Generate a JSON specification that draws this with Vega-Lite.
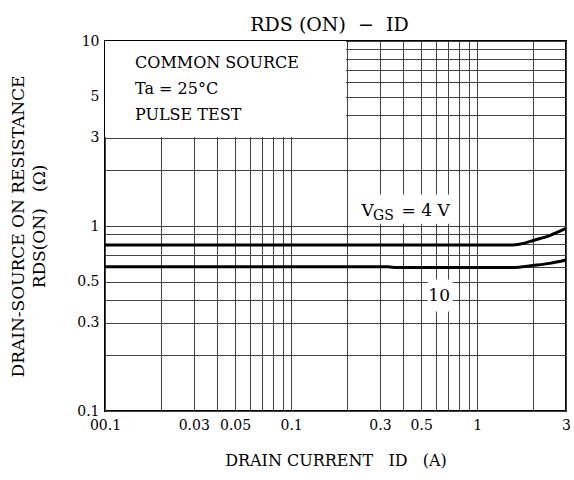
{
  "$schema": "https://vega.github.io/schema/vega-lite/v6.json",
  "width": 461,
  "height": 370,
  "autosize": {"type": "none"},
  "padding": {"left": 105, "top": 41, "right": 8, "bottom": 69},
  "background": "white",
  "config": {
    "view": {"stroke": "black", "strokeWidth": 2},
    "font": "DejaVu Serif"
  },
  "title": {
    "text": "RDS (ON)\u00a0\u00a0−\u00a0\u00a0ID",
    "font": "DejaVu Serif",
    "fontSize": 19,
    "fontWeight": "normal",
    "color": "black",
    "offset": 10,
    "dx": -6,
    "dy": 11
  },
  "datasets": {
    "curves": [
      {"vgs": "4", "id": 0.01, "r": 0.79},
      {"vgs": "4", "id": 0.1, "r": 0.79},
      {"vgs": "4", "id": 1.0, "r": 0.79},
      {"vgs": "4", "id": 1.55, "r": 0.79},
      {"vgs": "4", "id": 1.8, "r": 0.808},
      {"vgs": "4", "id": 2.0, "r": 0.835},
      {"vgs": "4", "id": 2.45, "r": 0.888},
      {"vgs": "4", "id": 3.0, "r": 0.97},
      {"vgs": "10", "id": 0.01, "r": 0.602},
      {"vgs": "10", "id": 0.1, "r": 0.602},
      {"vgs": "10", "id": 0.33, "r": 0.602},
      {"vgs": "10", "id": 0.37, "r": 0.596},
      {"vgs": "10", "id": 1.0, "r": 0.596},
      {"vgs": "10", "id": 1.55, "r": 0.596},
      {"vgs": "10", "id": 2.0, "r": 0.612},
      {"vgs": "10", "id": 2.45, "r": 0.628},
      {"vgs": "10", "id": 3.0, "r": 0.655}
    ]
  },
  "layer": [
    {
      "data": {"name": "curves"},
      "mark": {"type": "line", "color": "black", "strokeWidth": 3, "interpolate": "monotone"},
      "encoding": {
        "x": {
          "field": "id",
          "type": "quantitative",
          "scale": {"type": "log", "domain": [0.01, 3], "nice": false},
          "axis": {
            "title": "DRAIN CURRENT\u00a0\u00a0\u00a0ID\u00a0\u00a0\u00a0(A)",
            "values": [0.01, 0.02, 0.03, 0.04, 0.05, 0.06, 0.07, 0.08, 0.09, 0.1, 0.2, 0.3, 0.4, 0.5, 0.6, 0.7, 0.8, 0.9, 1, 2, 3],
            "labelExpr": "datum.value == 0.01 ? '00.1' : (indexof([0.03, 0.05, 0.1, 0.3, 0.5, 1, 3], datum.value) >= 0 ? '' + datum.value : '')",
            "grid": true,
            "gridColor": "#444444",
            "gridWidth": 1,
            "gridOpacity": 1,
            "ticks": false,
            "domain": false,
            "labelFont": "DejaVu Serif",
            "labelFontSize": 14,
            "labelColor": "black",
            "labelPadding": 7,
            "labelOverlap": false,
            "labelFlush": false,
            "labelBound": false,
            "titleFont": "DejaVu Serif",
            "titleFontSize": 16,
            "titleFontWeight": "normal",
            "titleColor": "black",
            "titlePadding": 20
          }
        },
        "y": {
          "field": "r",
          "type": "quantitative",
          "scale": {"type": "log", "domain": [0.1, 10], "nice": false},
          "axis": {
            "title": ["DRAIN-SOURCE ON RESISTANCE", "RDS(ON)\u00a0\u00a0\u00a0(Ω)"],
            "values": [0.1, 0.2, 0.3, 0.4, 0.5, 0.6, 0.7, 0.8, 0.9, 1, 2, 3, 4, 5, 6, 7, 8, 9, 10],
            "labelExpr": "indexof([0.1, 0.3, 0.5, 1, 3, 5, 10], datum.value) >= 0 ? '' + datum.value : ''",
            "grid": true,
            "gridColor": "#444444",
            "gridWidth": 1,
            "gridOpacity": 1,
            "ticks": false,
            "domain": false,
            "labelFont": "DejaVu Serif",
            "labelFontSize": 14,
            "labelColor": "black",
            "labelPadding": 6,
            "labelOverlap": false,
            "labelFlush": false,
            "labelBound": false,
            "titleFont": "DejaVu Serif",
            "titleFontSize": 17,
            "titleFontWeight": "normal",
            "titleColor": "black",
            "titleLineHeight": 21,
            "titlePadding": 28
          }
        },
        "detail": {"field": "vgs", "type": "nominal"}
      }
    },
    {
      "data": {"values": [{}]},
      "mark": {"type": "rect", "fill": "white"},
      "encoding": {
        "x": {"datum": 0.01},
        "x2": {"datum": 0.197},
        "y": {"datum": 3.03},
        "y2": {"datum": 10}
      }
    },
    {
      "data": {"values": [{}]},
      "mark": {"type": "rect", "fill": "white"},
      "encoding": {
        "x": {"datum": 0.228},
        "x2": {"datum": 0.785},
        "y": {"datum": 1.03},
        "y2": {"datum": 1.48}
      }
    },
    {
      "data": {"values": [{}]},
      "mark": {"type": "rect", "fill": "white"},
      "encoding": {
        "x": {"datum": 0.542},
        "x2": {"datum": 0.738},
        "y": {"datum": 0.345},
        "y2": {"datum": 0.514}
      }
    },
    {
      "data": {"values": [{}]},
      "mark": {"type": "text", "text": ["COMMON SOURCE", "Ta = 25°C", "PULSE TEST"], "font": "DejaVu Serif", "fontSize": 16, "lineHeight": 26, "align": "left", "baseline": "alphabetic", "color": "black"},
      "encoding": {
        "x": {"datum": 0.0145},
        "y": {"datum": 7.16}
      }
    },
    {
      "data": {"values": [{}]},
      "mark": {"type": "text", "text": "V", "font": "DejaVu Serif", "fontSize": 17, "align": "left", "baseline": "alphabetic", "color": "black"},
      "encoding": {
        "x": {"datum": 0.2387},
        "y": {"datum": 1.13}
      }
    },
    {
      "data": {"values": [{}]},
      "mark": {"type": "text", "text": "GS", "font": "DejaVu Serif", "fontSize": 14, "align": "left", "baseline": "alphabetic", "color": "black"},
      "encoding": {
        "x": {"datum": 0.2755},
        "y": {"datum": 1.075}
      }
    },
    {
      "data": {"values": [{}]},
      "mark": {"type": "text", "text": "= 4 V", "font": "DejaVu Serif", "fontSize": 17, "align": "left", "baseline": "alphabetic", "color": "black"},
      "encoding": {
        "x": {"datum": 0.392},
        "y": {"datum": 1.13}
      }
    },
    {
      "data": {"values": [{}]},
      "mark": {"type": "text", "text": "10", "font": "DejaVu Serif", "fontSize": 17, "align": "center", "baseline": "middle", "color": "black"},
      "encoding": {
        "x": {"datum": 0.6243},
        "y": {"datum": 0.421}
      }
    }
  ]
}
